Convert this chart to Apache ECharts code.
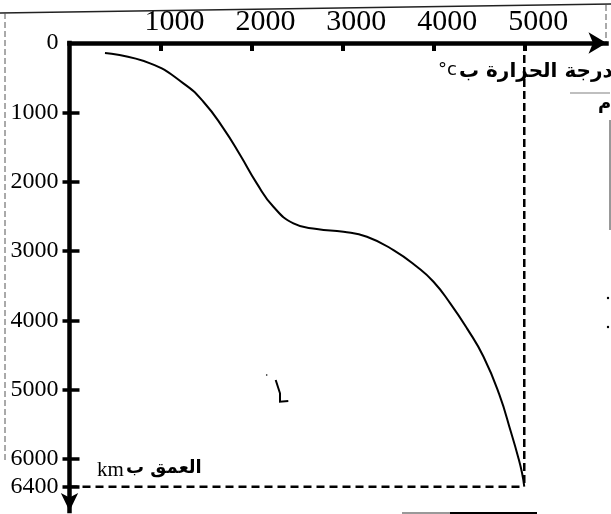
<!DOCTYPE html>
<html><head><meta charset="utf-8">
<script src="https://cdn.jsdelivr.net/npm/echarts@6/dist/echarts.min.js"></script>
<style>html,body{margin:0;padding:0;background:#fff}#c{width:611px;height:514px}</style>
</head><body><div id="c"></div>
<script>
// ---- data ----
const tempTicks = [1000, 2000, 3000, 4000, 5000];
const depthTicks = [0, 1000, 2000, 3000, 4000, 5000, 6000, 6400];
const curveTemp  = [390, 886, 1252, 1472, 1692, 1876, 2059, 2242, 2462, 2719, 3012, 3270, 3562, 3820, 4002, 4186, 4370, 4552, 4725, 4855, 4930, 4975, 5000];
const curveDepth = [144, 293, 582, 847, 1231, 1616, 2025, 2362, 2602, 2684, 2723, 2795, 2987, 3228, 3444, 3756, 4117, 4526, 5070, 5620, 5960, 6200, 6400];
const maxTemp = 5000;
const maxDepth = 6400;
const xTitleAr = 'درجة الحرارة ب';
const xTitleUnit = '°c';
const yTitleAr = 'العمق ب';
const yTitleUnit = 'km';
const strayText = 'م';

// ---- chart ----
const curve = curveTemp.map((t, i) => [t, curveDepth[i]]);
const vDash = [[maxTemp, 0], [maxTemp, maxDepth]];
const hDash = [[0, maxDepth], [maxTemp, maxDepth]];

const chart = echarts.init(document.getElementById('c'), null, {renderer: 'canvas'});
const serif = '"Liberation Serif", "Times New Roman", serif';
const arab = '"DejaVu Sans", sans-serif';
const plain = v => String(v);

chart.setOption({
  animation: false,
  backgroundColor: '#fff',
  grid: {left: 69.5, top: 43, width: 537, height: 467.9, containLabel: false, outerBoundsMode: 'none'},
  xAxis: [{
    type: 'value', position: 'top', min: 0, max: 5904,
    axisLine: {show: true, symbol: ['none', 'arrow'], symbolSize: [16, 18],
      lineStyle: {color: '#000', width: 4.5, cap: 'square'}},
    axisTick: {show: true, inside: true, length: 8, customValues: tempTicks,
      lineStyle: {color: '#000', width: 4}},
    axisLabel: {show: true, customValues: tempTicks, formatter: plain, color: '#000', fontFamily: serif,
      fontSize: 30, margin: 6, padding: [0, 0, 0, 28]},
    splitLine: {show: false}
  }],
  yAxis: [{
    type: 'value', inverse: true, position: 'left', min: 0, max: 6750,
    axisLine: {show: true, symbol: ['arrow', 'none'], symbolSize: [13, 18],
      lineStyle: {color: '#000', width: 4.5, cap: 'square'}},
    axisTick: {show: true, inside: false, length: 7, customValues: depthTicks.filter(v => v > 0),
      lineStyle: {color: '#000', width: 3.5}},
    axisLabel: {show: true, customValues: depthTicks, formatter: plain, color: '#000', fontFamily: serif,
      fontSize: 24, margin: 11},
    splitLine: {show: false}
  }, {
    type: 'value', inverse: true, position: 'left', offset: 0, min: 0, max: 6750,
    axisLine: {show: false},
    axisTick: {show: true, inside: true, length: 10, customValues: depthTicks.filter(v => v > 0),
      lineStyle: {color: '#000', width: 3.5}},
    axisLabel: {show: false},
    splitLine: {show: false}
  }],
  series: [{
    type: 'line', data: curve, smooth: 0.5, symbol: 'none',
    lineStyle: {color: '#000', width: 2}, z: 5
  }, {
    type: 'line', data: vDash, symbol: 'none',
    lineStyle: {color: '#000', width: 2.5, type: [8, 4]}
  }, {
    type: 'line', data: hDash, symbol: 'none',
    lineStyle: {color: '#000', width: 2.5, type: [8, 5]}
  }],
  graphic: [
    {type: 'text', x: 459, y: 72, style: {text: xTitleAr, font: 'bold 20px ' + arab, fill: '#000', align: 'left', verticalAlign: 'middle'}},
    {type: 'text', x: 457, y: 70, style: {text: xTitleUnit, font: '18px ' + arab, fill: '#000', align: 'right', verticalAlign: 'middle'}},
    {type: 'text', x: 97, y: 470, style: {text: yTitleUnit, font: '21px ' + serif, fill: '#000', align: 'left', verticalAlign: 'middle'}},
    {type: 'text', x: 126, y: 468, style: {text: yTitleAr, font: 'bold 18px ' + arab, fill: '#000', align: 'left', verticalAlign: 'middle'}},
    {type: 'text', x: 598, y: 104, style: {text: strayText, font: 'bold 18px ' + arab, fill: '#000', align: 'left', verticalAlign: 'middle'}},
    {type: 'line', shape: {x1: 570, y1: 93, x2: 610, y2: 93}, style: {stroke: '#aaa', lineWidth: 1.5}},
    {type: 'line', shape: {x1: 610, y1: 120, x2: 610, y2: 230}, style: {stroke: '#333', lineWidth: 1}},
    {type: 'circle', shape: {cx: 608, cy: 298, r: 1.2}, style: {fill: '#000'}},
    {type: 'circle', shape: {cx: 608, cy: 327, r: 1.2}, style: {fill: '#000'}},
    {type: 'line', shape: {x1: 0, y1: 13, x2: 611, y2: 4}, style: {stroke: '#222', lineWidth: 1.5}},
    {type: 'line', shape: {x1: 5, y1: 13, x2: 5, y2: 460}, style: {stroke: '#555', lineWidth: 1, lineDash: [6, 3]}},
    {type: 'line', shape: {x1: 606, y1: 5, x2: 606, y2: 45}, style: {stroke: '#555', lineWidth: 1, lineDash: [6, 3]}},
    {type: 'line', shape: {x1: 402, y1: 513, x2: 450, y2: 513}, style: {stroke: '#999', lineWidth: 2}},
    {type: 'line', shape: {x1: 450, y1: 513, x2: 537, y2: 513}, style: {stroke: '#000', lineWidth: 2}},
    {type: 'polyline', shape: {points: [[275.7, 380], [280, 393.3], [280, 401.7], [288.3, 401]]}, style: {stroke: '#000', lineWidth: 2, fill: null}},
    {type: 'circle', shape: {cx: 266.7, cy: 375, r: 0.8}, style: {fill: '#000'}}
  ]
});
</script>
</body></html>
